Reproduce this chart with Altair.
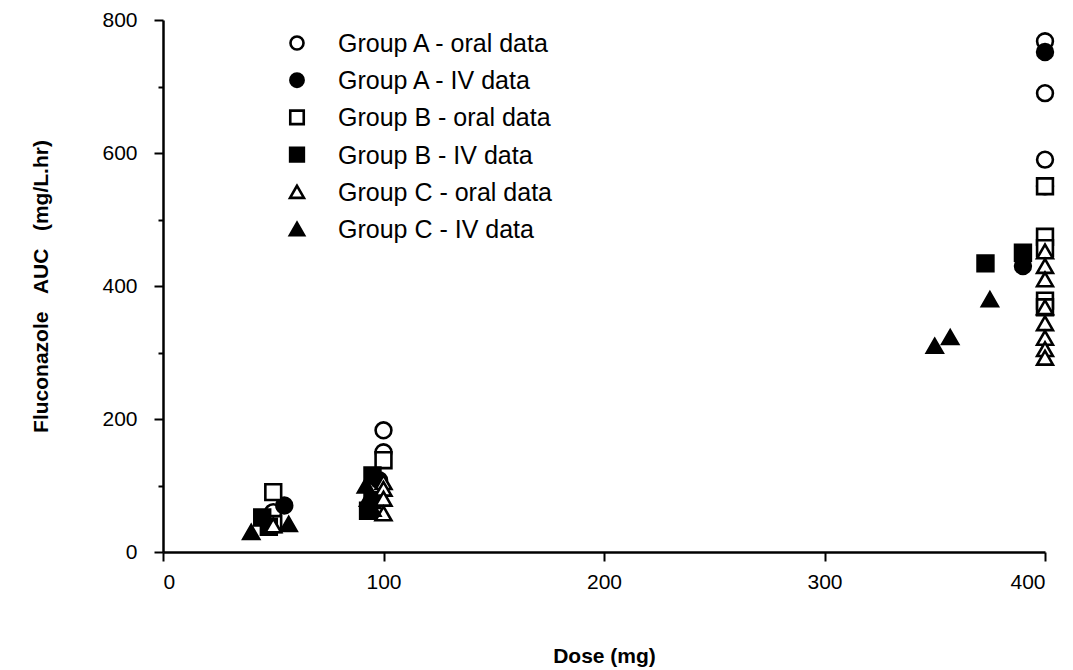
import altair as alt
import pandas as pd

series_names = [
    "Group A - oral data",
    "Group A - IV data",
    "Group B - oral data",
    "Group B - IV data",
    "Group C - oral data",
    "Group C - IV data",
]

a_oral_dose = [400, 400, 400, 400, 100, 100, 50]
a_oral_auc = [768, 690, 590, 550, 183, 150, 60]
a_iv_dose = [400, 390, 55, 98]
a_iv_auc = [752, 430, 70, 108]
b_oral_dose = [400, 400, 400, 400, 400, 50, 100, 50]
b_oral_auc = [474, 457, 378, 368, 550, 90, 138, 42]
b_iv_dose = [373, 390, 45, 48, 95, 95, 93]
b_iv_auc = [434, 450, 52, 38, 115, 78, 62]
c_oral_dose = [400, 400, 400, 400, 400, 400, 400, 400, 100, 100, 100, 100, 50]
c_oral_auc = [452, 430, 410, 368, 344, 322, 305, 292, 105, 95, 80, 58, 40]
c_iv_dose = [40, 57, 350, 357, 375, 92, 93, 95]
c_iv_auc = [30, 42, 310, 323, 380, 100, 80, 65]

x_ticks = [0, 100, 200, 300, 400]
y_ticks = [0, 100, 200, 300, 400, 500, 600, 700, 800]

groups = [
    (a_oral_dose, a_oral_auc),
    (a_iv_dose, a_iv_auc),
    (b_oral_dose, b_oral_auc),
    (b_iv_dose, b_iv_auc),
    (c_oral_dose, c_oral_auc),
    (c_iv_dose, c_iv_auc),
]

rows = []
order = 0
for name, (ds, vs) in zip(series_names, groups):
    for d, v in zip(ds, vs):
        rows.append({"series": name, "dose": d, "auc": v, "order": order})
        order += 1
df = pd.DataFrame(rows)
legend_df = pd.DataFrame({"series": series_names})

shapes = ["circle", "circle", "square", "square", "triangle-up", "triangle-up"]
fills = ["white", "black", "white", "black", "white", "black"]
sizes = [250, 250, 110, 110, 230, 230]
legend_sizes = [170, 200, 70, 90, 170, 200]

FONT = "Liberation Sans, Arial, Helvetica, sans-serif"
NB = "\u00a0"

shape_scale = alt.Scale(domain=series_names, range=shapes)
fill_scale = alt.Scale(domain=series_names, range=fills)

points = alt.Chart(df).mark_point(
    stroke="black", strokeWidth=2.6, opacity=1
).encode(
    x=alt.X(
        "dose:Q",
        scale=alt.Scale(domain=[0, 400], nice=False, zero=False),
        axis=alt.Axis(
            values=x_ticks,
            title="Dose (mg)",
            grid=False,
            tickSize=9,
            tickWidth=2,
            domainWidth=2.5,
            domainColor="black",
            tickColor="black",
            labelFontSize=21,
            labelFont=FONT,
            labelColor="black",
            labelPadding=10,
            titleFont=FONT,
            titleFontSize=21,
            titleFontWeight="bold",
            titleColor="black",
            titlePadding=53,
        ),
    ),
    y=alt.Y(
        "auc:Q",
        scale=alt.Scale(domain=[0, 800], nice=False),
        axis=alt.Axis(
            orient="left",
            values=y_ticks,
            labelExpr="datum.value % 200 === 0 ? datum.label : ''",
            title="Fluconazole" + NB * 3 + "AUC" + NB * 3 + "(mg/L.hr)",
            grid=False,
            tickSize={"condition": {"test": "datum.value % 200 === 0", "value": 9}, "value": 5},
            tickWidth=2,
            domainWidth=2.5,
            domainColor="black",
            tickColor="black",
            labelFontSize=21,
            labelFont=FONT,
            labelColor="black",
            labelPadding=17,
            titleFont=FONT,
            titleFontSize=21,
            titleFontWeight="bold",
            titleColor="black",
            titlePadding=50,
        ),
    ),
    shape=alt.Shape("series:N", scale=shape_scale, legend=None),
    fill=alt.Fill("series:N", scale=fill_scale, legend=None),
    size=alt.Size(
        "series:N",
        scale=alt.Scale(domain=series_names, range=sizes),
        legend=None,
    ),
    order=alt.Order("order:Q"),
)

legend_y = alt.Y(
    "series:N",
    scale=alt.Scale(type="point", domain=series_names, range=[23, 209], padding=0),
    axis=None,
)

legend_symbols = alt.Chart(legend_df).transform_calculate(
    lkey="datum.series"
).mark_point(
    stroke="black", strokeWidth=2.6, opacity=1
).encode(
    x=alt.value(134),
    y=legend_y,
    shape=alt.Shape("series:N", scale=shape_scale, legend=None),
    fill=alt.Fill("series:N", scale=fill_scale, legend=None),
    size=alt.Size(
        "lkey:N",
        scale=alt.Scale(domain=series_names, range=legend_sizes),
        legend=None,
    ),
)

legend_labels = alt.Chart(legend_df).mark_text(
    align="left", baseline="middle", font=FONT, fontSize=25, color="black", dy=1
).encode(
    x=alt.value(175),
    y=legend_y,
    text="series:N",
)

chart = (
    alt.layer(points, legend_symbols, legend_labels)
    .resolve_scale(y="independent", size="independent")
    .properties(
        width=882,
        height=532,
        padding={"left": 155, "top": 12, "right": 20, "bottom": 116},
        autosize=alt.AutoSizeParams(type="none"),
    )
    .configure(background="white")
    .configure_view(stroke=None)
)

chart.save("out.html", embed_options={"renderer": "svg", "actions": False})
